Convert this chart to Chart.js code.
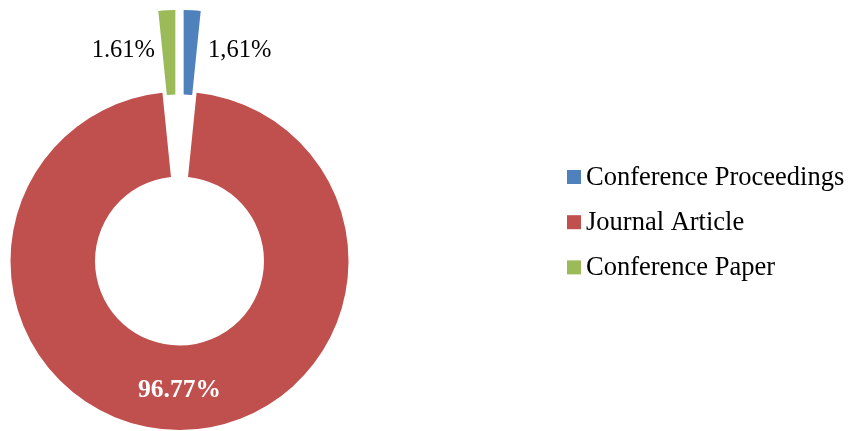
<!DOCTYPE html>
<html>
<head>
<meta charset="utf-8">
<script src="https://cdn.jsdelivr.net/npm/chart.js@4.4.1/dist/chart.umd.min.js"></script>
<style>
  html, body { margin: 0; padding: 0; background: #fff; }
  #wrap { width: 849px; height: 431px; }
</style>
</head>
<body>
<div id="wrap"><canvas id="typeChart" width="849" height="431"></canvas></div>
<script>
// Publication types
const categories = ['Conference Proceedings', 'Journal Article', 'Conference Paper'];
const shares = [1.61, 96.77, 1.61];
const shareLabels = ['1,61%', '96.77%', '1.61%'];
const colors = ['#4F81BD', '#C0504D', '#9BBB59'];

const serif = "'Liberation Serif', 'Times New Roman', serif";

// Pulls the small slices straight out along their bisector (no narrowing like arc offset does)
Chart.register({
    id: 'explode-slices',
    afterDatasetsUpdate: (chart, args, opts) => {
        const arcs = chart.getDatasetMeta(0).data;
        arcs.forEach((arc, i) => {
            const d = opts.distance[i] || 0;
            if (!d) return;
            const mid = (arc.startAngle + arc.endAngle) / 2;
            arc.x += Math.cos(mid) * d;
            arc.y += Math.sin(mid) * d;
        });
    }
});

// Percentage labels next to each slice, plus the legend on the right
Chart.register({
    id: 'labels-and-legend',
    afterDatasetsDraw: (chart) => {
        const ctx = chart.ctx;
        const arcs = chart.getDatasetMeta(0).data;
        ctx.save();
        ctx.textBaseline = 'middle';
        arcs.forEach((arc, i) => {
            const mid = (arc.startAngle + arc.endAngle) / 2;
            const r = (arc.innerRadius + arc.outerRadius) / 2;
            const cx = arc.x + Math.cos(mid) * r;
            const cy = arc.y + Math.sin(mid) * r;
            if (i === 1) {
                ctx.font = 'bold 25.5px ' + serif;
                ctx.fillStyle = '#ffffff';
                ctx.textAlign = 'center';
                ctx.fillText(shareLabels[i], cx, cy + 3);
            } else {
                ctx.font = '24.5px ' + serif;
                ctx.fillStyle = '#000000';
                const right = Math.cos(mid) > 0;
                ctx.textAlign = right ? 'left' : 'right';
                ctx.fillText(shareLabels[i], cx + (right ? 18 : -14), cy - 2);
            }
        });

        // legend
        ctx.font = '26.5px ' + serif;
        ctx.textAlign = 'left';
        categories.forEach((name, i) => {
            const y = 177 + i * 45.2;
            ctx.fillStyle = colors[i];
            ctx.fillRect(567, y - 7, 14, 14);
            ctx.fillStyle = '#000000';
            ctx.fillText(name, 586, y + 1);
        });
        ctx.restore();
    }
});

new Chart(document.getElementById('typeChart'), {
    type: 'doughnut',
    data: {
        labels: categories,
        datasets: [{
            data: shares,
            backgroundColor: colors,
            borderWidth: 0,
            clip: false
        }]
    },
    options: {
        responsive: false,
        animation: false,
        radius: 169,
        cutout: '50%',
        layout: { padding: { left: 0, right: 490, top: 91, bottom: 0 } },
        plugins: {
            legend: { display: false },
            tooltip: { enabled: false },
            'explode-slices': { distance: [82, 0, 82] }
        }
    }
});
</script>
</body>
</html>
